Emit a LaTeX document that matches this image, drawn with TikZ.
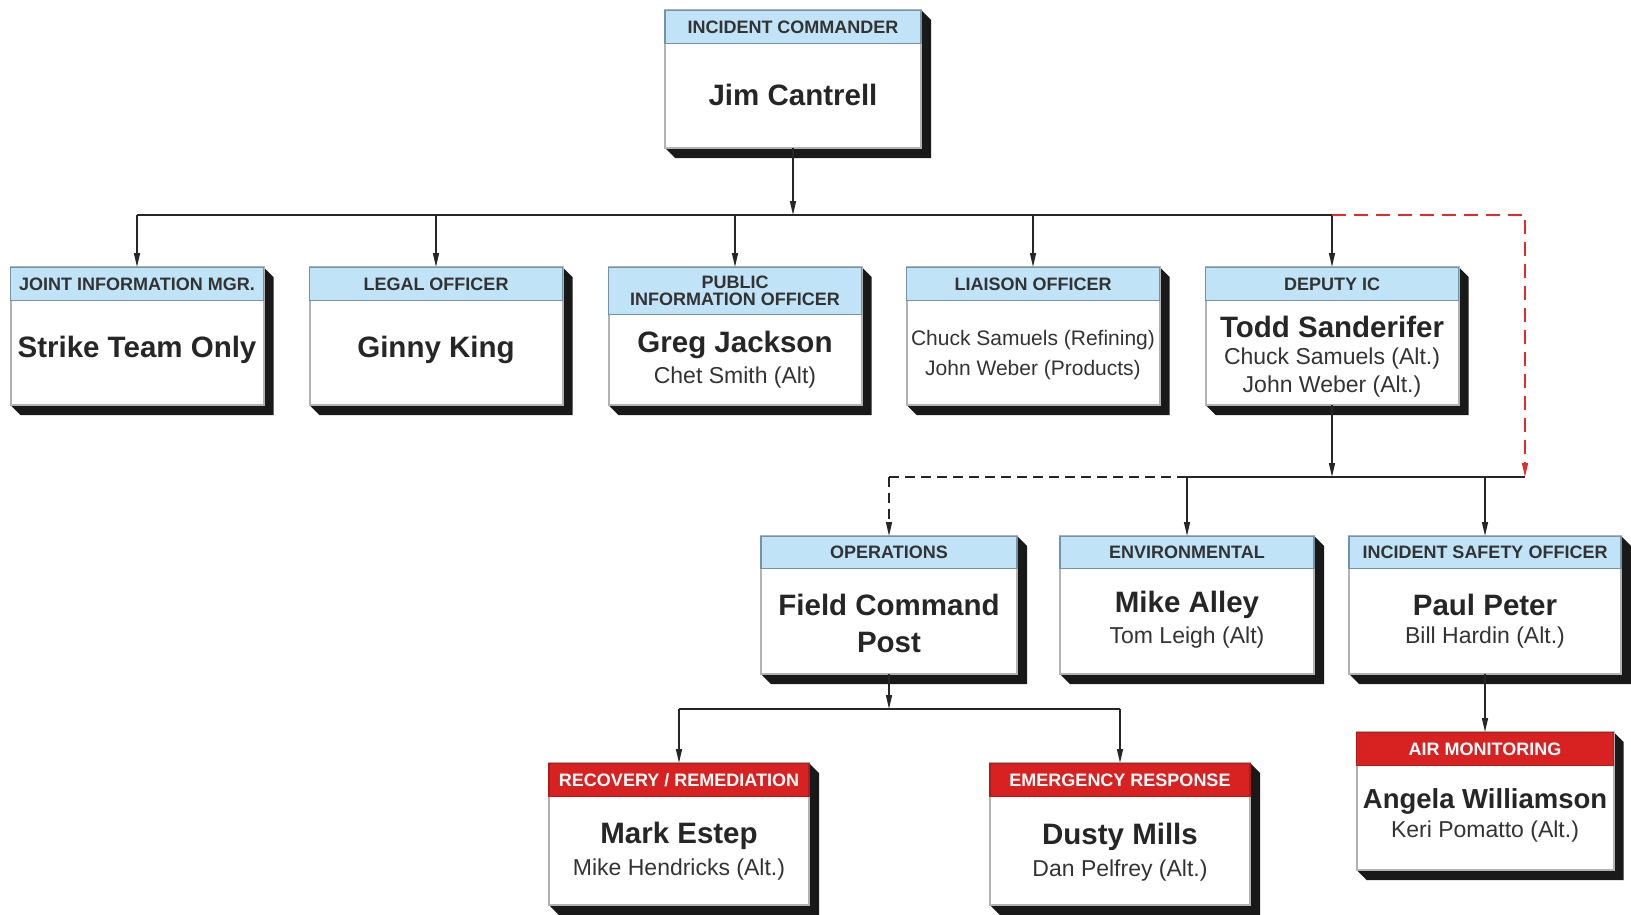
\documentclass[tikz,border=0pt]{standalone}
\usepackage{fontspec}
\setmainfont{Liberation Sans}
\usepackage{xcolor}
\usepackage{tikz}
\usetikzlibrary{calc, positioning, arrows.meta}

\definecolor{hdrblue}{RGB}{192,227,247}
\definecolor{hdrline}{RGB}{118,146,166}
\definecolor{hdrred}{RGB}{216,34,34}
\definecolor{redlink}{RGB}{226,44,44}

\newcommand{\orgname}{\fontsize{29.5}{33}\selectfont\bfseries}
\newcommand{\orgalt}{\fontsize{23}{26}\selectfont}
\newcommand{\orghead}{\fontsize{18}{18}\selectfont\bfseries}

\tikzset{
  boxbody/.style={draw=gray!60, line width=2pt, fill=white, inner sep=0pt, outer sep=0pt},
  hdrblu/.style={fill=hdrblue, draw=hdrline, line width=1.2pt, text=black!80},
  hdrrd/.style={fill=hdrred, draw=hdrred!80!black, line width=1.2pt, text=white},
  nm/.style={font=\orgname, text=black!85, inner sep=0pt},
  alt/.style={font=\orgalt, text=black!80, inner sep=0pt},
  wire/.style={line width=1.5pt, black!85},
  link/.style={wire, -{Triangle[length=14pt,width=6pt]}},
  dashwire/.style={dash pattern=on 10pt off 6pt},
}

% name, center x, top, width, height, header height, header style, header text
\newcommand{\orgbox}[8]{%
  \fill[black!90] (#2+#4/2,#3) -- ++(10,10) -- ++(0,#5) -- ++(-#4,0) -- ++(-10,-10) -- cycle;
  \node[boxbody, minimum width=#4, minimum height=#5, anchor=north] (#1) at (#2,#3) {};
  \node[#7, minimum width=#4, minimum height=#6, anchor=north, align=center, font=\orghead, inner sep=0pt] (#1-h) at (#1.north) {#8};
}

\begin{document}
\begin{tikzpicture}[x=1pt, y=-1pt]
  \useasboundingbox (0,0) rectangle (1631,914);

  \orgbox{ic}{793}{10}{256}{138}{33}{hdrblu}{INCIDENT COMMANDER}
  \node[nm] (ic-nm) at (793,95) {Jim Cantrell};

  \orgbox{jim}{137}{267}{253}{138}{33}{hdrblu}{JOINT INFORMATION MGR.}
  \node[nm] (jim-nm) at (137,350) {Strike Team Only};
  \orgbox{legal}{436}{267}{253}{138}{33}{hdrblu}{LEGAL OFFICER}
  \node[nm] (legal-nm) at (436,350) {Ginny King};
  \orgbox{pio}{735}{267}{253}{138}{47}{hdrblu}{PUBLIC\\[-1pt]INFORMATION OFFICER}
  \node[nm] (pio-nm) at (735,345) {Greg Jackson};
  \node[alt] (pio-alt) at (735,378) {Chet Smith (Alt)};
  \orgbox{liaison}{1033}{267}{253}{138}{33}{hdrblu}{LIAISON OFFICER}
  \node[alt, font=\fontsize{21}{24}\selectfont] (liaison-a) at (1033,340) {Chuck Samuels (Refining)};
  \node[alt, font=\fontsize{21}{24}\selectfont] (liaison-b) at (1033,370) {John Weber (Products)};
  \orgbox{dep}{1332}{267}{253}{138}{33}{hdrblu}{DEPUTY IC}
  \node[nm] (dep-nm) at (1332,327) {Todd Sanderifer};
  \node[alt] (dep-a) at (1332,359) {Chuck Samuels (Alt.)};
  \node[alt] (dep-b) at (1332,387) {John Weber (Alt.)};

  \orgbox{ops}{889}{536}{256}{138}{32}{hdrblu}{OPERATIONS}
  \node[nm] (ops-a) at (889,605) {Field Command};
  \node[nm] (ops-b) at (889,642) {Post};
  \orgbox{env}{1187}{536}{254}{138}{32}{hdrblu}{ENVIRONMENTAL}
  \node[nm] (env-nm) at (1187,605) {Mike Alley};
  \node[alt] (env-alt) at (1187,638) {Tom Leigh (Alt)};
  \orgbox{iso}{1485}{536}{272}{138}{32}{hdrblu}{INCIDENT SAFETY OFFICER}
  \node[nm] (iso-nm) at (1485,605) {Paul Peter};
  \node[alt] (iso-alt) at (1485,638) {Bill Hardin (Alt.)};

  \orgbox{air}{1485}{732}{257}{138}{33}{hdrrd}{AIR MONITORING}
  \node[nm, font=\fontsize{27.5}{32}\selectfont\bfseries] (air-nm) at (1485,801) {Angela Williamson};
  \node[alt] (air-alt) at (1485,832) {Keri Pomatto (Alt.)};

  \orgbox{rec}{679}{763}{260}{142}{33}{hdrrd}{RECOVERY / REMEDIATION}
  \node[nm] (rec-nm) at (679,836) {Mark Estep};
  \node[alt] (rec-alt) at (679,870) {Mike Hendricks (Alt.)};
  \orgbox{emr}{1120}{763}{260}{142}{33}{hdrrd}{EMERGENCY RESPONSE}
  \node[nm] (emr-nm) at (1120,837) {Dusty Mills};
  \node[alt] (emr-alt) at (1120,871) {Dan Pelfrey (Alt.)};

  \coordinate (busA) at (793,215);
  \coordinate (busB) at (1332,477);
  \coordinate (busC) at (889,709);
  \coordinate (redend) at (1525,477);

  \draw[link] (ic.south) -- (busA);
  \draw[wire] (jim.north |- busA) -- (dep.north |- busA);
  \foreach \n in {jim,legal,pio,liaison,dep}
    \draw[link] (\n.north |- busA) -- (\n-h.north);
  \draw[link, redlink, dashwire, dash pattern=on 14pt off 8pt] (dep.north |- busA) -| (redend);

  \draw[link] (dep.south) -- (busB);
  \draw[wire] (env.north |- busB) -- (redend);
  \draw[wire, dashwire] (ops.north |- busB) -- (env.north |- busB);
  \draw[link, dashwire] (ops.north |- busB) -- (ops-h.north);
  \draw[link] (env.north |- busB) -- (env-h.north);
  \draw[link] (iso.north |- busB) -- (iso-h.north);

  \draw[link] (ops.south) -- (busC);
  \draw[wire] (rec.north |- busC) -- (emr.north |- busC);
  \draw[link] (rec.north |- busC) -- (rec-h.north);
  \draw[link] (emr.north |- busC) -- (emr-h.north);

  \draw[link] (iso.south) -- (air-h.north);
\end{tikzpicture}
\end{document}
